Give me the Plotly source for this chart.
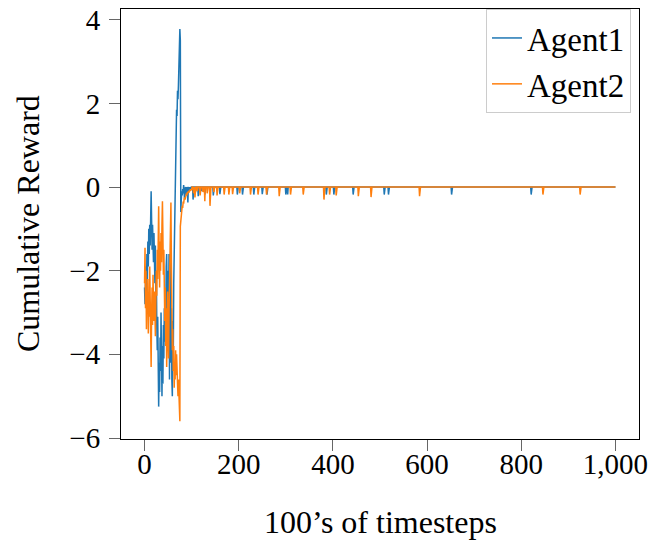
import plotly.graph_objects as go

# ---- data ----
n_steps = 1001  # x = 0 .. 1000 (100's of timesteps)

# dense early segment, x = 0 .. 100
agent1_early = [
    -2.4, -2.8, -2.3, -1.9, -2.6, -1.6, -2.2, -1.3, -1.9, -1.0,
    -1.6, -0.9, -1.4, -0.5, -0.1, -0.8, -1.5, -0.9, -1.2, -1.8,
    -1.1, -1.6, -2.3, -1.4, -2.8, -2.0, -3.3, -3.9, -3.1, -4.6,
    -5.25, -4.2, -4.9, -3.6, -4.4, -3.0, -4.0, -5.0, -3.8, -4.7,
    -3.3, -4.1, -2.9, -3.7, -2.6, -3.4, -1.9, -1.6, -2.8, -3.9,
    -2.0, -3.2, -1.6, -4.6, -2.4, -1.6, -4.2, -2.9, -4.6, -5.0,
    -3.2, -4.1, -2.3, -1.5, -0.6, 0.4, 0.9, 1.4, 1.85, 1.7,
    2.3, 2.1, 2.45, 2.9, 3.3, 3.78, 3.5, -0.6, -0.3, -0.1,
    -0.2, -0.05, -0.15, 0.05, -0.1, -0.3, -0.05, 0.0, -0.1, -0.2,
    0.0, -0.05, -0.37, 0.0, -0.02, -0.1, 0.0, -0.05, 0.0, -0.03,
    0.0,
]
agent2_early = [
    -2.3, -1.45, -2.9, -2.0, -3.4, -2.5, -3.0, -2.2, -3.5, -2.6,
    -3.1, -1.9, -2.8, -3.6, -4.3, -3.0, -2.4, -3.3, -2.1, -2.8,
    -3.2, -2.5, -3.0, -3.57, -2.7, -2.0, -2.6, -1.5, -2.2, -1.0,
    -0.46, -1.6, -2.4, -1.3, -2.0, -1.1, -1.8, -0.9, -0.34, -1.2,
    -2.1, -1.5, -2.6, -3.2, -2.4, -3.8, -2.9, -4.3, -3.3, -2.5,
    -3.6, -4.1, -3.0, -2.2, -1.4, -0.8, -0.37, -1.8, -3.0, -3.9,
    -3.4, -4.4, -3.8, -4.8, -4.2, -4.6, -3.9, -4.5, -4.0, -4.7,
    -4.3, -5.0, -4.6, -5.2, -4.9, -5.6, -0.94, -0.8, -0.6, -0.65,
    -0.45, -0.5, -0.35, -0.4, -0.3, -0.25, -0.3, -0.2, -0.22, -0.15,
    -0.2, -0.12, -0.15, -0.1, -0.14, -0.08, -0.1, -0.06, -0.09, -0.05,
    -0.07,
]

# later segment: value is 0 except at these dips (x, value)
agent1_dips_x = [103, 108, 114, 121, 128, 146, 160, 197, 208, 232, 250, 260,
                 300, 304, 386, 402, 443, 509, 518, 652, 821]
agent1_dips_y = [-0.3, -0.12, -0.22, -0.1, -0.18, -0.2, -0.17, -0.18, -0.18,
                 -0.18, -0.17, -0.18, -0.18, -0.18, -0.18, -0.18, -0.18,
                 -0.18, -0.18, -0.18, -0.18]
agent2_dips_x = [104, 107, 112, 118, 124, 128, 133, 139, 147, 154, 169, 179,
                 187, 202, 225, 241, 259, 286, 310, 337, 381, 393, 407, 454,
                 481, 584, 846, 925]
agent2_dips_y = [-0.15, -0.25, -0.1, -0.2, -0.12, -0.34, -0.15, -0.45, -0.12,
                 -0.2, -0.18, -0.18, -0.17, -0.15, -0.18, -0.18, -0.18, -0.22,
                 -0.18, -0.18, -0.3, -0.18, -0.2, -0.22, -0.24, -0.22, -0.18,
                 -0.18]

x_tick_vals = [0, 200, 400, 600, 800, 1000]
x_tick_text = ["0", "200", "400", "600", "800", "1,000"]
y_tick_vals = [-6, -4, -2, 0, 2, 4]
x_title = "100’s of timesteps"
y_title = "Cumulative Reward"


def build(early, dips_x, dips_y):
    vals = list(early) + [0.0] * (n_steps - len(early))
    for xi, yi in zip(dips_x, dips_y):
        vals[xi] = yi
    return vals


steps = list(range(n_steps))
agent1 = build(agent1_early, agent1_dips_x, agent1_dips_y)
agent2 = build(agent2_early, agent2_dips_x, agent2_dips_y)

FONT = "Liberation Serif, Times New Roman, serif"
W, H = 655, 543
ML, MT = 121, 9
PW, PH = 518, 430
MR = W - ML - PW
MB = H - MT - PH

fig = go.Figure()
fig.add_trace(go.Scatter(x=steps, y=agent1, mode="lines", name="Agent1",
                         line=dict(color="#1f77b4", width=1.5)))
fig.add_trace(go.Scatter(x=steps, y=agent2, mode="lines", name="Agent2",
                         line=dict(color="#ff7f0e", width=1.5)))

fig.update_layout(
    width=W, height=H,
    margin=dict(l=ML, r=MR, t=MT, b=MB, autoexpand=False),
    paper_bgcolor="white", plot_bgcolor="white",
    font=dict(family=FONT, size=29, color="black"),
    showlegend=True,
    legend=dict(x=(631 - ML) / PW, y=1.0, xanchor="right", yanchor="top",
                bgcolor="white", bordercolor="#cccccc", borderwidth=1,
                font=dict(family=FONT, size=33), tracegroupgap=0),
    annotations=[
        dict(text=x_title, xref="paper", yref="paper",
             x=0.5, y=-(522 - (MT + PH)) / PH, xanchor="center",
             yanchor="middle", showarrow=False,
             font=dict(family=FONT, size=32)),
        dict(text=y_title, xref="paper", yref="paper",
             x=-(ML - 28) / PW, y=0.5, xanchor="center", yanchor="middle",
             textangle=-90, showarrow=False,
             font=dict(family=FONT, size=32)),
    ],
)
fig.update_xaxes(
    range=[-50, 1050], tickvals=x_tick_vals, ticktext=x_tick_text,
    automargin=False, showgrid=False, zeroline=False,
    showline=True, linecolor="black", linewidth=1, mirror=True,
    ticks="outside", ticklen=11, tickcolor="#666666", tickwidth=1,
    ticklabelstandoff=-12,
    tickfont=dict(family=FONT, size=29),
)
fig.update_yaxes(
    range=[-6.024, 4.256], tickvals=y_tick_vals,
    automargin=False, showgrid=False, zeroline=False,
    showline=True, linecolor="black", linewidth=1, mirror=True,
    ticks="outside", ticklen=11, tickcolor="#666666", tickwidth=1,
    ticklabelstandoff=3, ticklabeloverflow="allow",
    tickfont=dict(family=FONT, size=29),
)

# remove the browser's default 8px page margin so the figure fills the window
fig.write_html("out.html",
               config={"displayModeBar": False},
               post_script="document.body.style.margin='0px';")
